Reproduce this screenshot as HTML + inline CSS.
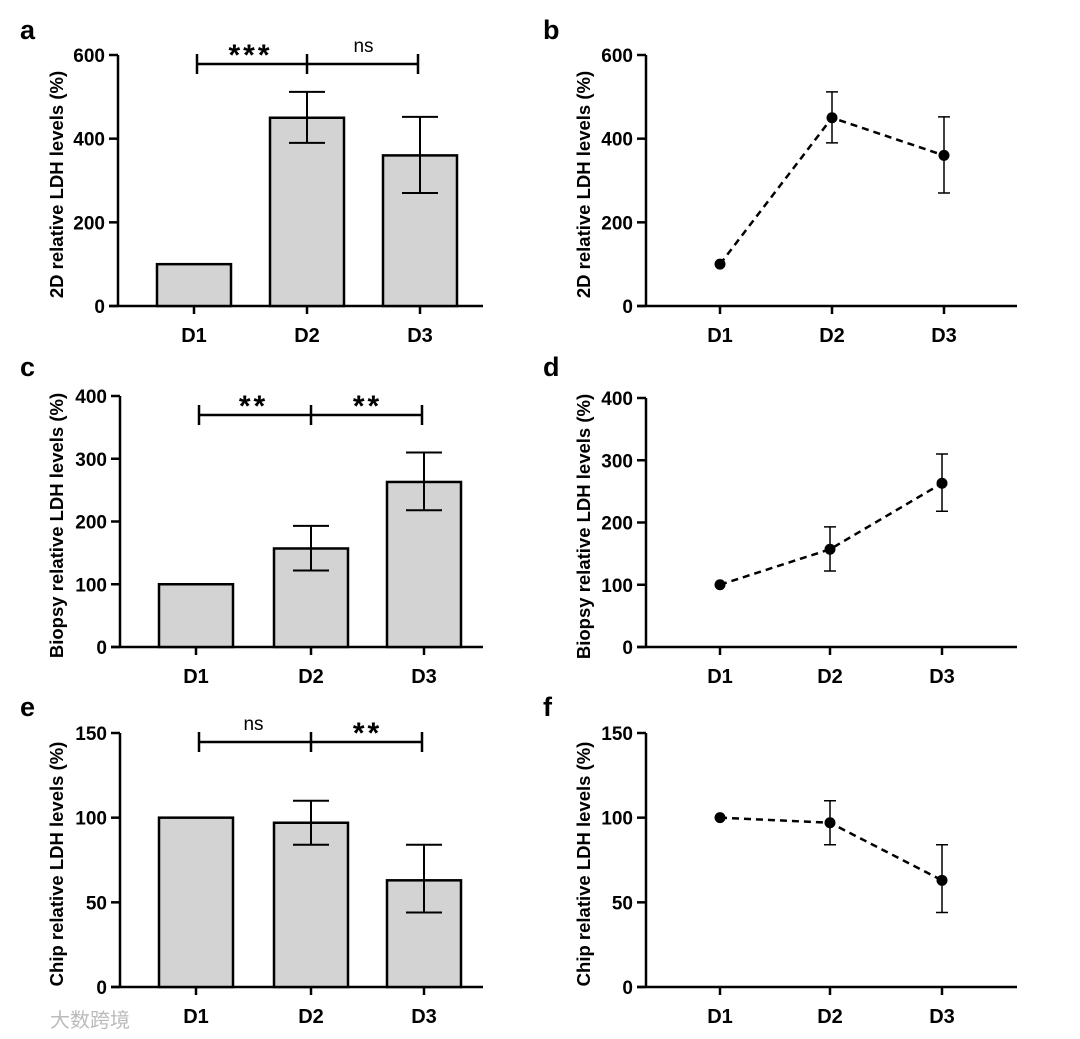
<!DOCTYPE html>
<html><head><meta charset="utf-8"><style>
body{margin:0;background:#fff;}
svg{display:block;font-family:"Liberation Sans",Arial,sans-serif;}
</style></head><body>
<svg id="fig" width="1080" height="1039" viewBox="0 0 1080 1039"></svg>
<script>
const categories=["D1","D2","D3"];
const aVals=[100,450,360], aLo=[100,390,270], aHi=[100,512,452];
const cVals=[100,157,263], cLo=[100,122,218], cHi=[100,193,310];
const eVals=[100,97,63], eLo=[100,84,44], eHi=[100,110,84];
const aTicks=[0,200,400,600], cTicks=[0,100,200,300,400], eTicks=[0,50,100,150];
const aSig=["***","ns"], cSig=["**","**"], eSig=["ns","**"];
const NS="http://www.w3.org/2000/svg";
const svg=document.getElementById('fig');
function mk(tag,attrs,parent,text){const e=document.createElementNS(NS,tag);for(const k in attrs)e.setAttribute(k,attrs[k]);if(text!==undefined)e.textContent=text;(parent||svg).appendChild(e);return e;}
function panel(o){
  const g=mk('g',{});
  
  
  const ymax=o.ticks[o.ticks.length-1];
  const y=v=>o.y0-(v/ymax)*(o.y0-o.yTop);
  const x=i=>o.xs[i];
  const lt=mk('text',{x:o.lx,y:o.ly,'font-size':27,'font-weight':'bold'},g,o.letter);
  
  
  const ya=mk('line',{x1:o.ax,y1:o.y0,x2:o.ax,y2:o.yTop,stroke:'#000','stroke-width':2.5},g);
  
  
  o.ticks.forEach(t=>{
    mk('line',{x1:o.ax-9,y1:y(t),x2:o.ax,y2:y(t),stroke:'#000','stroke-width':2.5},g);
    const tl=mk('text',{x:o.ax-13,y:y(t)+7,'font-size':19,'font-weight':'bold','text-anchor':'end'},g,t);
    
    
  });
  const xa=mk('line',{x1:o.ax-9,y1:o.y0,x2:o.xEnd,y2:o.y0,stroke:'#000','stroke-width':2.5},g);
  
  
  categories.forEach((c,i)=>{
    mk('line',{x1:x(i),y1:o.y0,x2:x(i),y2:o.y0+8,stroke:'#000','stroke-width':2.5},g);
    const xl=mk('text',{x:x(i),y:o.y0+36,'font-size':20,'font-weight':'bold','text-anchor':'middle'},g,c);
    
    
  });
  const cy=(o.y0+o.yTop)/2+4;
  const at=mk('text',{x:0,y:0,'font-size':18.5,'font-weight':'bold','text-anchor':'middle',transform:`translate(${o.tx},${cy}) rotate(-90)`},g,o.title);
  
  
  if(o.bars){
    o.vals.forEach((v,i)=>{
      const b=mk('rect',{x:x(i)-37,y:y(v),width:74,height:o.y0-y(v),fill:'#d3d3d3',stroke:'#000','stroke-width':2.5},g);
      
      
    });
  } else {
    let d='';o.vals.forEach((v,i)=>{d+=(i?'L':'M')+x(i)+' '+y(v);});
    const ln=mk('path',{d:d,fill:'none',stroke:'#000','stroke-width':2.5,'stroke-dasharray':'7 5'},g);
    
    
  }
  o.vals.forEach((v,i)=>{
    if(o.hi[i]!==o.lo[i]){
      const eb=mk('path',{d:`M${x(i)} ${y(o.lo[i])}V${y(o.hi[i])}M${x(i)-(o.bars?18:6)} ${y(o.hi[i])}h${o.bars?36:12}M${x(i)-(o.bars?18:6)} ${y(o.lo[i])}h${o.bars?36:12}`,stroke:'#000','stroke-width':o.bars?2:1.5,fill:'none'},g);
      
      
    }
    if(!o.bars){
      const p=mk('circle',{cx:x(i),cy:y(v),r:5.5,fill:'#000'},g);
      
      
    }
  });
  if(o.sig){
    const by=o.sigY;
    const br=mk('path',{d:`M${x(0)+3} ${by}H${x(2)-2}M${x(0)+3} ${by-10}v20M${x(1)} ${by-10}v20M${x(2)-2} ${by-10}v20`,stroke:'#000','stroke-width':2.5,fill:'none'},g);
    
    
    o.sig.forEach((s,i)=>{
      const star=s.indexOf('*')>=0;
      const sx=(x(i)+x(i+1))/2;
      const st=mk('text',{x:sx,y:star?by+1:by-12,'font-size':star?30:19,'font-weight':star?'bold':'normal','text-anchor':'middle','letter-spacing':star?3:0},g,s);
      
      
    });
  }
}
panel({letter:'a',lx:20,ly:39,ax:118,y0:306,yTop:55,xEnd:483,xs:[194,307,420],ticks:aTicks,vals:aVals,lo:aLo,hi:aHi,bars:true,sig:aSig,sigY:64,tx:63,title:'2D relative  LDH levels  (%)'});
panel({letter:'b',lx:543,ly:39,ax:646,y0:306,yTop:55,xEnd:1017,xs:[720,832,944],ticks:aTicks,vals:aVals,lo:aLo,hi:aHi,bars:false,tx:590,title:'2D  relative LDH levels (%)'});
panel({letter:'c',lx:20,ly:376,ax:120,y0:647,yTop:396,xEnd:483,xs:[196,311,424],ticks:cTicks,vals:cVals,lo:cLo,hi:cHi,bars:true,sig:cSig,sigY:415,tx:63,title:'Biopsy relative LDH levels  (%)'});
panel({letter:'d',lx:543,ly:376,ax:646,y0:647,yTop:398,xEnd:1017,xs:[720,830,942],ticks:cTicks,vals:cVals,lo:cLo,hi:cHi,bars:false,tx:590,title:'Biopsy relative LDH levels (%)'});
panel({letter:'e',lx:20,ly:716,ax:120,y0:987,yTop:733,xEnd:483,xs:[196,311,424],ticks:eTicks,vals:eVals,lo:eLo,hi:eHi,bars:true,sig:eSig,sigY:742,tx:63,title:'Chip relative  LDH levels  (%)'});
panel({letter:'f',lx:543,ly:716,ax:646,y0:987,yTop:733,xEnd:1017,xs:[720,830,942],ticks:eTicks,vals:eVals,lo:eLo,hi:eHi,bars:false,tx:590,title:'Chip relative LDH levels (%)'});
const wm=mk('text',{x:50,y:1027,'font-size':20,fill:'#bbb','font-family':'"Liberation Sans","Noto Sans CJK SC",sans-serif'},svg,'大数跨境');


</script>
</body></html>
